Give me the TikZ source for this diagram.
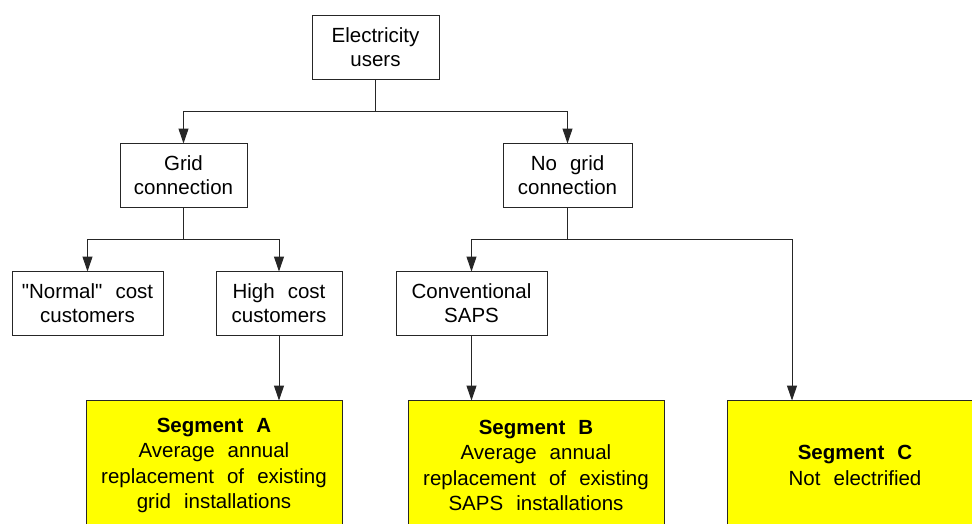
\documentclass[tikz,border=0pt]{standalone}
\usepackage{fontspec}
\setmainfont{Liberation Sans}[WordSpace=2.3]
\usetikzlibrary{positioning,arrows.meta}

\begin{document}
\begin{tikzpicture}[
    x=1pt, y=1pt,
    >={Triangle[length=15pt,width=10pt]},
    box/.style={rectangle, draw=black!85, line width=1pt, fill=white, align=center, inner sep=0pt, outer sep=0pt, minimum height=64pt, font=\fontsize{20.5}{24}\selectfont},
    seg/.style={box, fill={rgb,1:red,1;green,1;blue,0}, minimum width=256pt, minimum height=130pt, font=\fontsize{20.5}{25.3}\selectfont},
    wire/.style={line width=1pt, draw=black!85}
  ]
    \clip (0,0) rectangle (972,-523);
    \fill[white] (0,0) rectangle (972,-523);

    \node[box, minimum width=127pt] (users) at (375.5,-47.5) {Electricity\\users};

    \node[box, minimum width=127pt, below left=64pt and 65pt of users] (grid) {Grid\\connection};
    \node[box, minimum width=129pt, below right=64pt and 64pt of users] (nogrid) {No grid\\connection};

    \node[box, minimum width=151pt, below left=64pt and -43pt of grid] (normal) {\textquotedbl Normal\textquotedbl{} cost\\customers};
    \node[box, minimum width=126pt, below right=64pt and -31pt of grid] (high) {High cost\\customers};
    \node[box, minimum width=151pt, below left=64pt and -44pt of nogrid] (saps) {Conventional\\SAPS};

    \node[seg, below left=65pt and 0pt of high.south east] (segA) {\textbf{Segment A}\\Average annual\\replacement of existing\\grid installations};
    \node[seg, below right=65pt and 12pt of saps.south west] (segB) {\textbf{Segment B}\\Average annual\\replacement of existing\\SAPS installations};
    \node[seg, right=63pt of segB] (segC) {\textbf{Segment C}\\Not electrified};
    \coordinate (cin) at ([xshift=65pt]segC.north west);

    \draw[->, wire] (users.south) -- ++(0,-32) -| (grid.north);
    \draw[->, wire] (users.south) -- ++(0,-32) -| (nogrid.north);
    \draw[->, wire] (grid.south) -- ++(0,-32) -| (normal.north);
    \draw[->, wire] (grid.south) -- ++(0,-32) -| (high.north);
    \draw[->, wire] (nogrid.south) -- ++(0,-32) -| (saps.north);
    \draw[->, wire] (nogrid.south) -- ++(0,-32) -| (cin);
    \draw[->, wire] (high.south) -- (high.south |- segA.north);
    \draw[->, wire] (saps.south) -- (saps.south |- segB.north);
\end{tikzpicture}
\end{document}
